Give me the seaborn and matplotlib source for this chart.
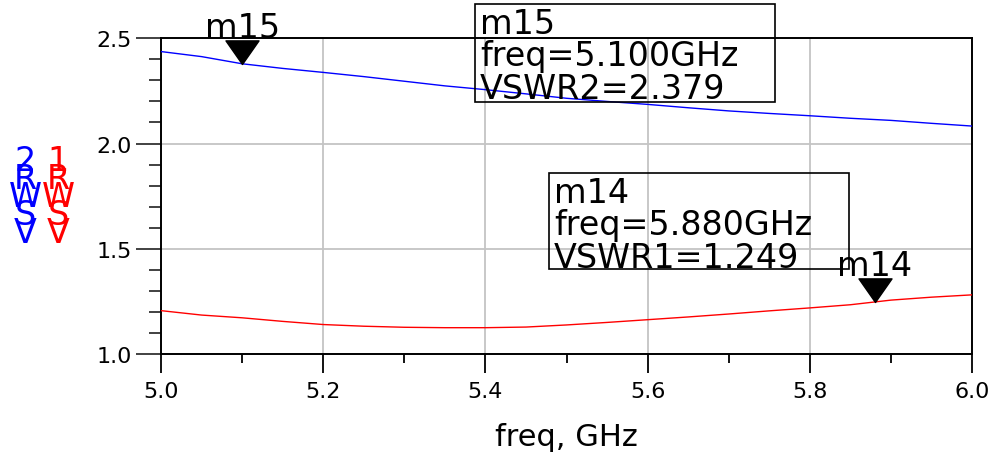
import numpy as np
import pandas as pd
import matplotlib
matplotlib.use('Agg')
import matplotlib.pyplot as plt
from matplotlib.path import Path
from matplotlib.patches import Rectangle
import seaborn as sns

# =====================================
# Data
# =====================================
freq = [5.0, 5.05, 5.1, 5.15, 5.2, 5.25, 5.3, 5.35, 5.4, 5.45, 5.5,
        5.55, 5.6, 5.65, 5.7, 5.75, 5.8, 5.85, 5.9, 5.95, 6.0]
vswr2 = [2.437, 2.413, 2.379, 2.357, 2.338, 2.318, 2.296, 2.274, 2.256, 2.236, 2.215,
         2.200, 2.186, 2.170, 2.155, 2.143, 2.132, 2.120, 2.110, 2.096, 2.083]
vswr1 = [1.206, 1.185, 1.172, 1.155, 1.140, 1.132, 1.127, 1.125, 1.125, 1.128, 1.138,
         1.150, 1.163, 1.176, 1.190, 1.205, 1.219, 1.234, 1.256, 1.270, 1.281]

marker_names = ['m15', 'm14']
marker_freq = [5.100, 5.880]
marker_vals = [2.379, 1.249]
marker_series = ['VSWR2', 'VSWR1']

x_ticks = [5.0, 5.2, 5.4, 5.6, 5.8, 6.0]
y_ticks = [1.0, 1.5, 2.0, 2.5]

# =====================================
# Style
# =====================================
sns.set_style("white")
plt.rcParams['font.family'] = ['DejaVu Sans']
plt.rcParams['text.color'] = 'black'

W, H = 993, 456
fig = plt.figure(figsize=(W / 100, H / 100), dpi=100)
ax = fig.add_axes([161 / W, 1 - 355 / H, 811 / W, 315.7 / H])

df = pd.DataFrame({'freq': freq * 2,
                   'value': vswr2 + vswr1,
                   'series': ['VSWR2'] * len(freq) + ['VSWR1'] * len(freq)})
sns.lineplot(data=df, x='freq', y='value', hue='series',
             palette={'VSWR2': '#0000ff', 'VSWR1': '#ff0000'},
             linewidth=1.0, legend=False, ax=ax, zorder=3)

ax.set_xlim(5.0, 6.0)
ax.set_ylim(1.0, 2.5)
ax.set_xticks(x_ticks)
ax.set_xticks(np.arange(5.1, 6.0, 0.2), minor=True)
ax.set_yticks(y_ticks)
ax.set_yticks([v for v in np.arange(1.1, 2.5, 0.1) if abs(v * 2 - round(v * 2)) > 1e-6], minor=True)
ax.set_xticklabels([f'{v:.1f}' for v in x_ticks])
ax.set_yticklabels([f'{v:.1f}' for v in y_ticks])
ax.grid(which='major', color='#c4c4c4', linewidth=1.3, zorder=0)

ax.tick_params(which='both', bottom=True, left=True, top=False, right=False)
ax.tick_params(axis='x', which='major', direction='out', length=13.5, width=1.3,
               color='black', labelsize=16, labelcolor='black', pad=6)
ax.tick_params(axis='x', which='minor', direction='out', length=6.5, width=1.3, color='black')
ax.tick_params(axis='y', which='major', direction='out', length=18, width=1.3,
               color='#333333', labelsize=16, labelcolor='black', pad=3)
ax.tick_params(axis='y', which='minor', direction='out', length=9, width=1.3, color='#333333')
for s in ax.spines.values():
    s.set_visible(True)
    s.set_color('black')
    s.set_linewidth(1.4)

ax.set_xlabel('freq, GHz', fontsize=22, labelpad=15, color='black')
ax.set_ylabel('')

# stacked y labels
fig.text(25 / W, 1 - 145 / H, '2\nR\nW\nS\nV', color='#0000ff', fontsize=24,
         ha='center', va='top', linespacing=0.42)
fig.text(58 / W, 1 - 145 / H, '1\nR\nW\nS\nV', color='#ff0000', fontsize=24,
         ha='center', va='top', linespacing=0.42)

# markers (tip on the trace)
tri = Path([(-0.7, 1.0), (0.7, 1.0), (0.0, 0.0), (-0.7, 1.0)],
           [Path.MOVETO, Path.LINETO, Path.LINETO, Path.CLOSEPOLY])
for name, fx, fy in zip(marker_names, marker_freq, marker_vals):
    ax.plot([fx], [fy], marker=tri, markersize=34, color='black',
            linestyle='none', clip_on=False, zorder=5)
    ax.annotate(name, xy=(fx, fy), xytext=(0, 19), textcoords='offset points',
                ha='center', va='baseline', fontsize=24, annotation_clip=False)

# readout boxes: (left, top, width, height) in pixels of the reference
box_px = [(475, 5, 300, 98), (549, 174, 300, 96)]
for (bl, bt, bw, bh), name, fx, fy, s in zip(box_px, marker_names, marker_freq, marker_vals, marker_series):
    x0 = (bl - 161) / 811
    y1 = (355 - bt) / 315.7
    ax.add_patch(Rectangle((x0, y1 - bh / 315.7), bw / 811, bh / 315.7, transform=ax.transAxes,
                           fill=False, ec='black', lw=1.2, clip_on=False, zorder=6))
    ax.text(x0 + 5 / 811, y1 - 3 / 315.7, f'{name}\nfreq={fx:.3f}GHz\n{s}={fy:.3f}',
            transform=ax.transAxes, ha='left', va='top', fontsize=24,
            linespacing=0.98, zorder=6)

fig.savefig('out.png', dpi=100)
